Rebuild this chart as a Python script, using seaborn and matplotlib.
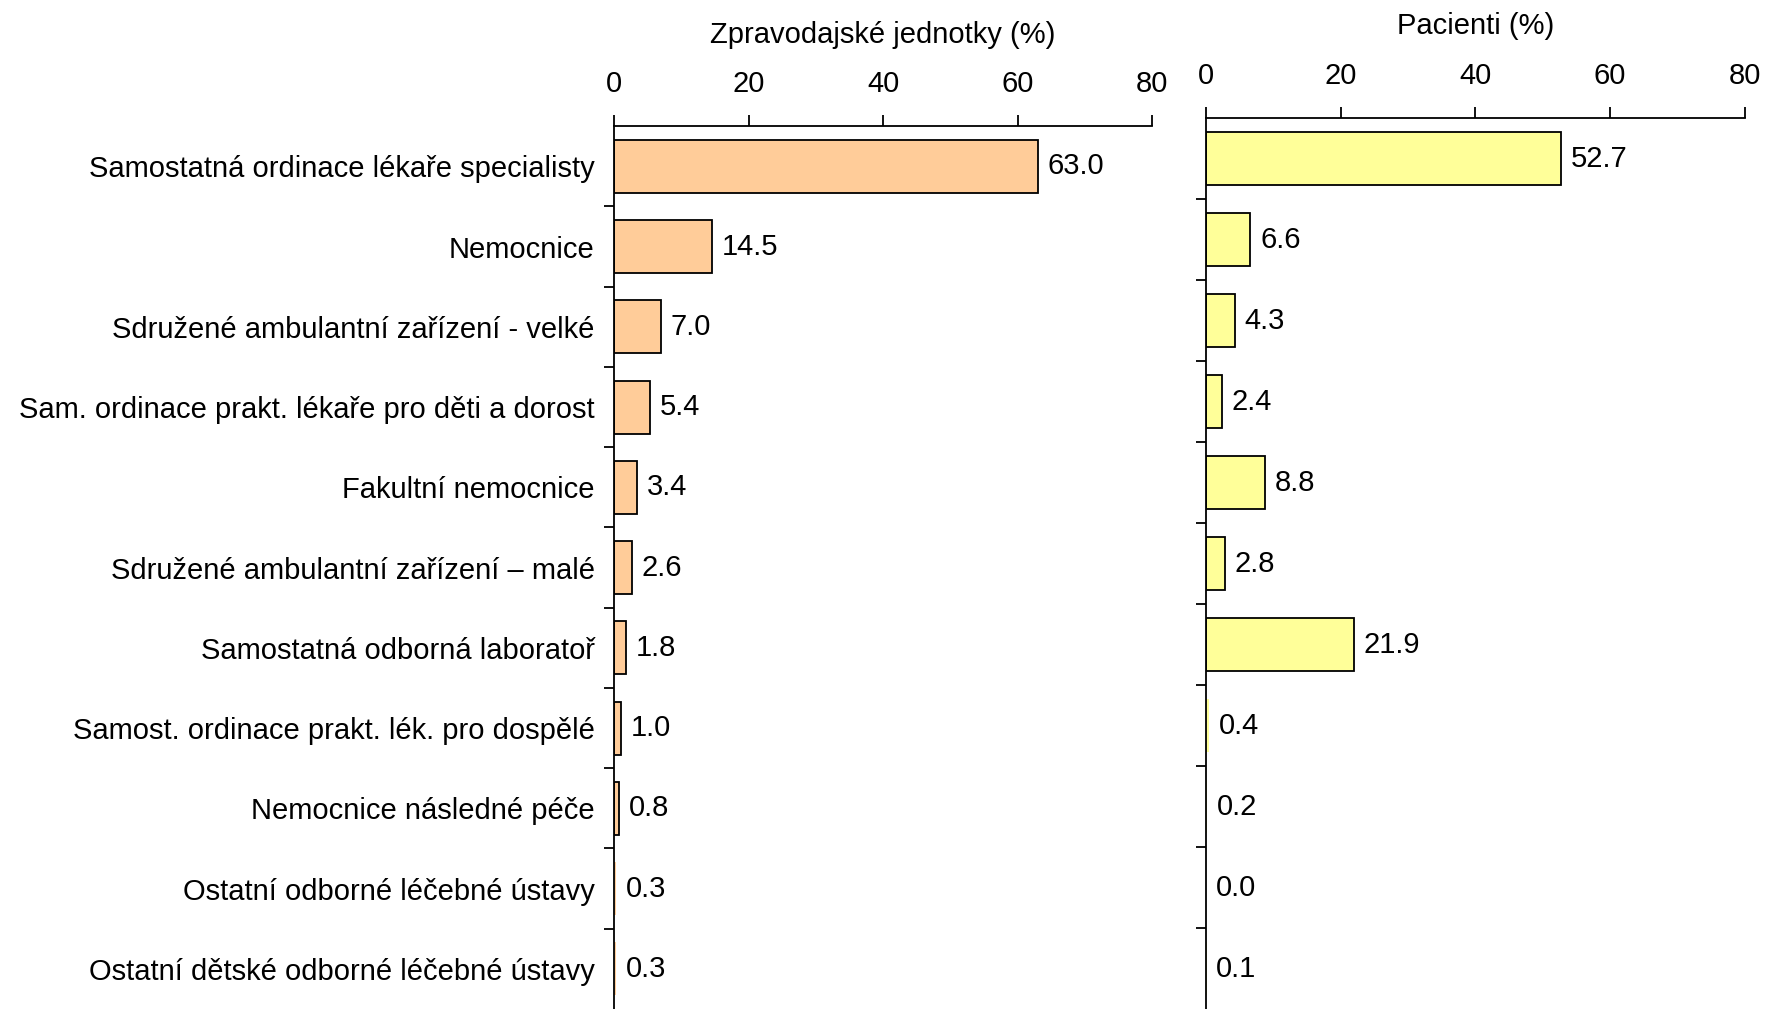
import matplotlib.pyplot as plt
import pandas as pd
import seaborn as sns
from matplotlib.ticker import FixedLocator

# data
kategorie = [
    'Samostatná ordinace lékaře specialisty',
    'Nemocnice',
    'Sdružené ambulantní zařízení - velké',
    'Sam. ordinace prakt. lékaře pro děti a dorost',
    'Fakultní nemocnice',
    'Sdružené ambulantní zařízení – malé',
    'Samostatná odborná laboratoř',
    'Samost. ordinace prakt. lék. pro dospělé',
    'Nemocnice následné péče',
    'Ostatní odborné léčebné ústavy',
    'Ostatní dětské odborné léčebné ústavy',
]
jednotky = [63.0, 14.5, 7.0, 5.4, 3.4, 2.6, 1.8, 1.0, 0.8, 0.3, 0.3]
pacienti = [52.7, 6.6, 4.3, 2.4, 8.8, 2.8, 21.9, 0.4, 0.2, 0.0, 0.1]
xticks = [0, 20, 40, 60, 80]

df = pd.DataFrame({'kat': kategorie, 'jednotky': jednotky, 'pacienti': pacienti})

sns.set_style('ticks')
plt.rcParams['font.family'] = ['Liberation Sans', 'DejaVu Sans']
plt.rcParams['text.color'] = 'black'
plt.rcParams['xtick.color'] = 'black'
plt.rcParams['ytick.color'] = 'black'
plt.rcParams['axes.labelcolor'] = 'black'
plt.rcParams['axes.edgecolor'] = 'black'

fig = plt.figure(figsize=(17.67, 10.09), dpi=100)
ax1 = fig.add_axes([0.3475, 0.0, 0.3045, 0.875])
ax2 = fig.add_axes([0.6825, 0.0, 0.305, 0.883])


def kresli(ax, sloupec, barva, titulek, popisky):
    sns.barplot(data=df, x=sloupec, y='kat', ax=ax, color=barva, width=0.66,
                edgecolor='black', linewidth=1.3, saturation=1)
    # velmi malé hodnoty nejsou v originále vidět
    for p in ax.patches:
        if p.get_width() < 0.5:
            p.set_linewidth(0)
    ax.set_xlim(0, 80)
    ax.set_ylim(len(kategorie) - 0.5, -0.5)
    ax.xaxis.tick_top()
    ax.xaxis.set_label_position('top')
    ax.set_xticks(xticks)
    ax.set_xlabel(titulek, fontsize=21, labelpad=20)
    ax.set_ylabel('')
    ax.tick_params(axis='x', direction='out', length=8, width=1.3, labelsize=21, pad=12)
    ax.yaxis.set_minor_locator(FixedLocator([i + 0.5 for i in range(len(kategorie) - 1)]))
    ax.tick_params(axis='y', which='major', length=0, labelsize=21, pad=14)
    ax.tick_params(axis='y', which='minor', length=7, width=1.3)
    if not popisky:
        ax.set_yticklabels([])
    for s in ['right', 'bottom']:
        ax.spines[s].set_visible(False)
    for s in ['left', 'top']:
        ax.spines[s].set_linewidth(1.3)
    for c in ax.containers:
        ax.bar_label(c, fmt='%.1f', padding=7, fontsize=21, color='black')


kresli(ax1, 'jednotky', '#FFCC99', 'Zpravodajské jednotky (%)', True)
kresli(ax2, 'pacienti', '#FFFF99', 'Pacienti (%)', False)

fig.savefig('out.png', dpi=100)
